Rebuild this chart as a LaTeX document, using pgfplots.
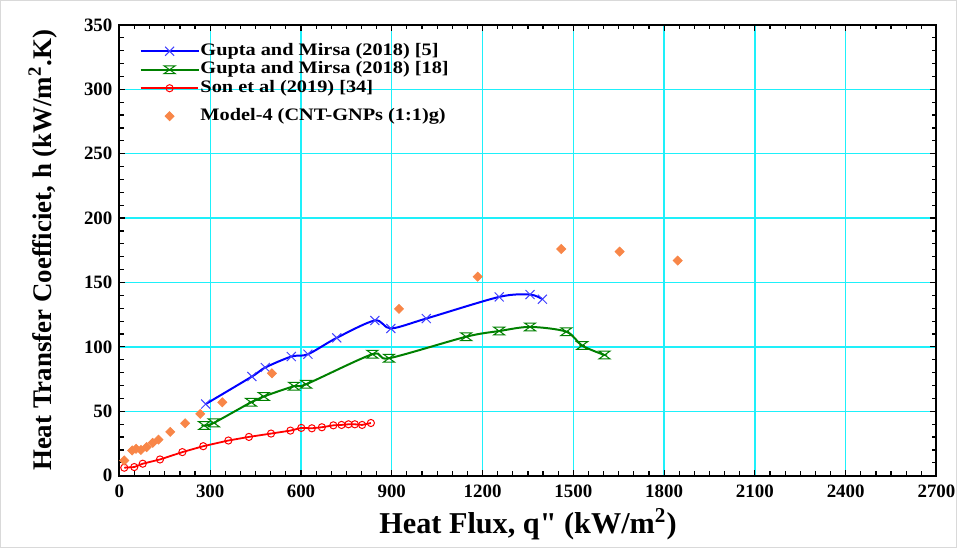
\documentclass[border=0pt]{standalone}
\usepackage{fontspec}
\setmainfont{Liberation Serif}[Ligatures=TeXOff]
\usepackage{graphicx}
\usepackage{pgfplots}
\pgfplotsset{compat=1.18}

\definecolor{gridcyan}{RGB}{30,240,250}
\definecolor{mblue}{RGB}{0,0,255}
\definecolor{mgreen}{RGB}{0,128,0}
\definecolor{mred}{RGB}{255,0,0}
\definecolor{morange}{RGB}{248,134,72}

% legend text is set wide in the original
\newcommand\wide[1]{\scalebox{1.16}[1]{#1}}

% hourglass mark for the second Gupta series
\pgfdeclareplotmark{hourglass}{%
  \pgfpathmoveto{\pgfqpoint{-\pgfplotmarksize}{0.7\pgfplotmarksize}}%
  \pgfpathlineto{\pgfqpoint{\pgfplotmarksize}{0.7\pgfplotmarksize}}%
  \pgfpathlineto{\pgfqpoint{-\pgfplotmarksize}{-0.7\pgfplotmarksize}}%
  \pgfpathlineto{\pgfqpoint{\pgfplotmarksize}{-0.7\pgfplotmarksize}}%
  \pgfpathclose
  \pgfpathmoveto{\pgfqpoint{-0.5\pgfplotmarksize}{0pt}}%
  \pgfpathlineto{\pgfqpoint{0.5\pgfplotmarksize}{0pt}}%
  \pgfusepathqstroke}

\begin{document}
\begin{tikzpicture}
\begin{axis}[
  scale only axis,
  width=410.5pt,
  height=226.5pt,
  xmin=0, xmax=2700,
  ymin=0, ymax=350,
  xtick={0,300,...,2700},
  ytick={0,50,...,350},
  minor x tick num=5,
  minor y tick num=4,
  tick align=inside,
  major tick length=3pt,
  minor tick length=2.2pt,
  tick style={black, line width=0.6pt},
  axis line style={line width=1pt},
  xmajorgrids, ymajorgrids,
  major grid style={gridcyan, line width=0.7pt},
  /pgf/number format/assume math mode=true,
  /pgf/number format/1000 sep={},
  tick label style={font=\bfseries\fontsize{9.5}{10}\selectfont},
  xticklabel style={yshift=-1pt},
  xlabel={Heat Flux, q" (kW/m\textsuperscript{2})},
  ylabel={Heat Transfer Coefficiet, h (kW/m\textsuperscript{2}.K)},
  xlabel style={font=\bfseries\fontsize{15.2}{17}\selectfont,
    at={(axis description cs:0.5,-0.108)}, anchor=center},
  ylabel style={font=\bfseries\fontsize{13.5}{16}\selectfont,
    at={(axis description cs:-0.0938,0.5)}, anchor=center},
  legend style={draw=none, fill=none,
    at={(axis description cs:0.0244,0.963)}, anchor=north west,
    font=\bfseries\fontsize{8.8}{10}\selectfont,
    inner sep=0pt, row sep=0pt,
    nodes={inner ysep=0pt, inner xsep=0.5pt, text height=6.7pt, text depth=2.6pt}},
  legend cell align=left,
  legend image code/.code={%
    \draw[mark repeat=2,mark phase=2,#1]
      plot coordinates {(0pt,0pt) (14.5pt,0pt) (29pt,0pt)};},
]
\addplot[mblue, line width=1pt, smooth, mark=x, mark size=3.2pt,
  mark options={line width=0.5pt, mblue!75}] coordinates {
  (285,55.6) (438,77) (482,84) (568,92.5) (623,94.3) (718,107)
  (844,120.5) (897,114.3) (1014,122) (1255,138.8) (1357,140.6) (1398,137)};
\addlegendentry{\wide{Gupta and Mirsa (2018) [5]}}

\addplot[mgreen, line width=1pt, smooth, mark=hourglass, mark size=2.8pt,
  mark options={line width=0.5pt, mgreen}] coordinates {
  (280,38.9) (312,41) (435,57) (477,61.5) (577,69.5) (617,71)
  (836,94.3) (891,91.2) (1146,107.9) (1255,112.3) (1357,115.5)
  (1477,111.8) (1529,101) (1603,93.7)};
\addlegendentry{\wide{Gupta and Mirsa (2018) [18]}}

\addplot[mred, line width=0.9pt, mark=o, mark size=1.8pt,
  mark options={line width=0.5pt, mred, fill=white}] coordinates {
  (16,6.2) (49,6.7) (77,9.3) (134,12.6) (208,18.3) (277,22.9)
  (360,27.3) (428,30.1) (501,32.7) (565,35) (601,37.1) (636,36.8)
  (669,37.6) (707,39.1) (734,39.4) (757,39.9) (778,39.9) (802,39.4)
  (831,40.9)};
\addlegendentry{\wide{Son et al (2019) [34]}}

\addlegendimage{empty legend}
\addlegendentry[text height=4.75pt, text depth=0pt]{}

\addplot[only marks, mark=square*, mark size=1.6pt,
  mark options={morange, rotate=45}] coordinates {
  (16,11.8) (42,19.6) (55,20.9) (71,20) (90,22.2) (110,25.5) (129,28)
  (168,34) (217,40.7) (267,48) (340,57) (504,79.5) (924,129.5)
  (1184,154.5) (1460,176) (1653,174) (1845,167)};
\addlegendentry{\wide{Model-4 (CNT-GNPs (1:1)g)}}
\end{axis}
\useasboundingbox (-60pt,-36.5pt) rectangle (421pt,239pt);
\draw[black!15, line width=0.6pt] (-59.7pt,-36.2pt) rectangle (420.7pt,238.7pt);
\end{tikzpicture}
\end{document}
